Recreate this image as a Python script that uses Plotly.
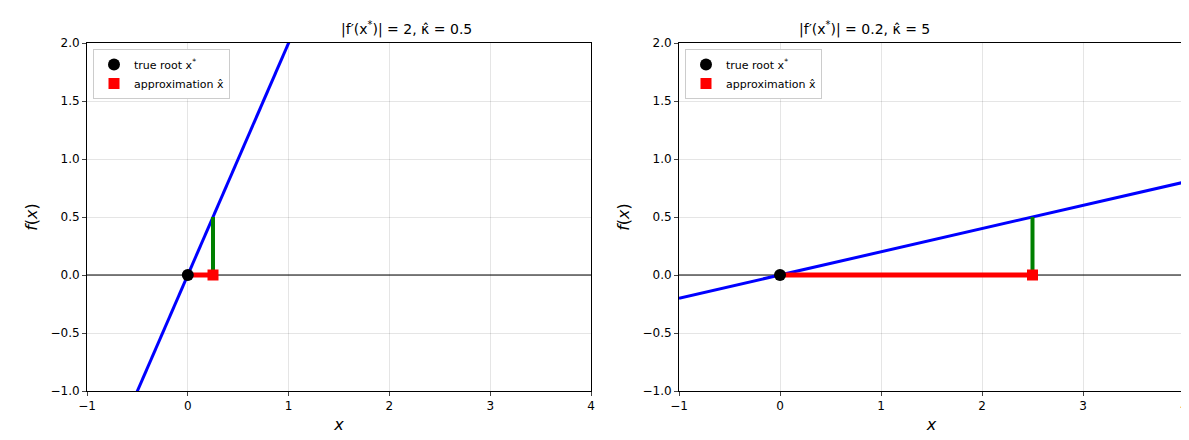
import plotly.graph_objects as go

xs_line = [-1, 4]
slopes = [2, 0.2]
xhats = [0.25, 2.5]
resid = [0.5, 0.5]
titles = ["|f′(x<sup>*</sup>)| = 2, κ̂ = 0.5", "|f′(x<sup>*</sup>)| = 0.2, κ̂ = 5"]
xticks = [-1, 0, 1, 2, 3, 4]
yticks = [-1.0, -0.5, 0.0, 0.5, 1.0, 1.5, 2.0]

W, H = 1189, 440
doms = [(79/W, 583/W), (671/W, 1176/W)]
ydom = (1-383/H, 1-35/H)

fig = go.Figure()
for i in range(2):
    xa = "x" if i == 0 else "x2"
    ya = "y" if i == 0 else "y2"
    lg = "legend" if i == 0 else "legend2"
    s = slopes[i]
    fig.add_trace(go.Scatter(x=xs_line, y=[0, 0], mode="lines", line=dict(color="black", width=1),
                             xaxis=xa, yaxis=ya, showlegend=False, hoverinfo="skip"))
    fig.add_trace(go.Scatter(x=xs_line, y=[s*v for v in xs_line], mode="lines", line=dict(color="blue", width=3),
                             xaxis=xa, yaxis=ya, showlegend=False))
    fig.add_trace(go.Scatter(x=[0, xhats[i]], y=[0, 0], mode="lines", line=dict(color="red", width=5),
                             xaxis=xa, yaxis=ya, showlegend=False))
    fig.add_trace(go.Scatter(x=[xhats[i], xhats[i]], y=[0, resid[i]], mode="lines", line=dict(color="green", width=4),
                             xaxis=xa, yaxis=ya, showlegend=False))
    fig.add_trace(go.Scatter(x=[0], y=[0], mode="markers", marker=dict(color="black", size=12),
                             name="true root x<sup>*</sup>", xaxis=xa, yaxis=ya, legend=lg))
    fig.add_trace(go.Scatter(x=[xhats[i]], y=[0], mode="markers", marker=dict(color="red", size=11, symbol="square"),
                             name="approximation x̂", xaxis=xa, yaxis=ya, legend=lg))
    fig.add_annotation(text=titles[i], x=(doms[i][0]+doms[i][1])/2, y=ydom[1], xref="paper", yref="paper",
                       yanchor="bottom", yshift=3, showarrow=False, font=dict(size=14, color="black"))

ax = dict(showline=True, linecolor="black", mirror=True, ticks="outside", ticklen=4, automargin=False,
          gridcolor="rgba(0,0,0,0.1)", zeroline=False, tickfont=dict(size=12, color="black"))
for i in range(2):
    sfx = "" if i == 0 else "2"
    fig.layout["xaxis"+sfx] = dict(ax, domain=doms[i], range=[-1, 4], tickvals=xticks, anchor="y"+sfx,
                                   title=dict(text="<i>x</i>", font=dict(size=16), standoff=6))
    fig.layout["yaxis"+sfx] = dict(ax, domain=ydom, range=[-1, 2], tickvals=yticks, tickformat=".1f",
                                   anchor="x"+sfx, title=dict(text="<i>f</i>(<i>x</i>)", font=dict(size=16), standoff=8))
    fig.layout["legend"+sfx] = dict(x=doms[i][0]+6/W, y=ydom[1]-6/H, xanchor="left", yanchor="top",
                                    bgcolor="white", bordercolor="#ccc", borderwidth=1, font=dict(size=11))

fig.update_layout(width=W, height=H, margin=dict(l=0, r=0, t=0, b=0, autoexpand=False), plot_bgcolor="white",
                  paper_bgcolor="white", font=dict(family="DejaVu Sans", color="black"))
fig.write_html("out.html")
